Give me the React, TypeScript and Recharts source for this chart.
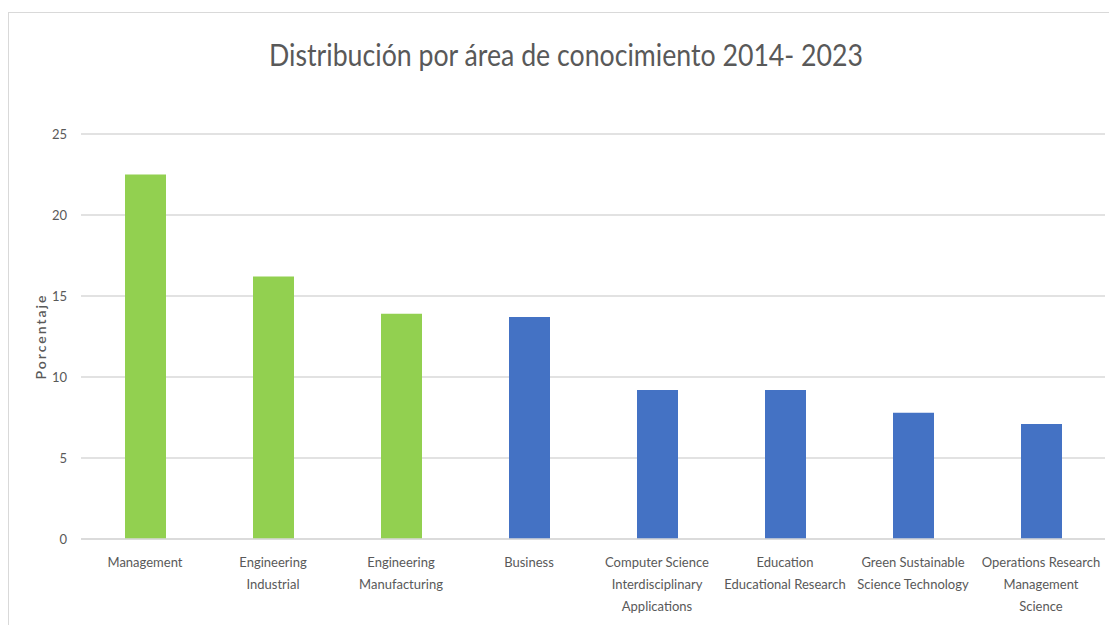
import { BarChart, Bar, XAxis, YAxis, CartesianGrid, Cell } from 'recharts'

const categories = [
  'Management',
  'Engineering\nIndustrial',
  'Engineering\nManufacturing',
  'Business',
  'Computer Science\nInterdisciplinary\nApplications',
  'Education\nEducational Research',
  'Green Sustainable\nScience Technology',
  'Operations Research\nManagement\nScience',
]
const values = [22.5, 16.2, 13.9, 13.7, 9.2, 9.2, 7.8, 7.1]
const barColors = ['#92D050', '#92D050', '#92D050', '#4472C4', '#4472C4', '#4472C4', '#4472C4', '#4472C4']
const yTicks = [0, 5, 10, 15, 20, 25]

const TITLE = 'Distribución por área de conocimiento 2014- 2023'
const FONT = 'Lato, "Open Sans", sans-serif'

const data = categories.map((name, i) => ({ name, value: values[i], color: barColors[i] }))

function CategoryTick({ x, y, payload }: any) {
  const lines = String(payload.value).split('\n')
  return (
    <text x={x} y={y} textAnchor="middle" fill="#595959" fontSize={13} fontFamily={FONT}>
      {lines.map((line, i) => (
        <tspan key={i} x={x} y={y + 28 + i * 22}>{line}</tspan>
      ))}
    </text>
  )
}

function YLabel({ viewBox }: any) {
  const cx = viewBox.x + 19
  const cy = viewBox.y + viewBox.height / 2
  return (
    <text
      x={cx}
      y={cy}
      transform={`rotate(-90 ${cx} ${cy})`}
      textAnchor="middle"
      dominantBaseline="central"
      fill="#595959"
      fontSize={14}
      fontWeight={600}
      letterSpacing={2}
      fontFamily={FONT}
    >
      Porcentaje
    </text>
  )
}

export default function App() {
  return (
    <div style={{ position: 'relative', width: 1109, height: 625, background: '#fff', overflow: 'hidden' }}>
      <style>{'body{margin:0}'}</style>
      <div
        style={{
          position: 'absolute', left: 8, top: 12, width: 1120, height: 640,
          borderLeft: '1.5px solid #d9d9d9', borderTop: '1.5px solid #d9d9d9',
        }}
      />
      <svg width={1109} height={90} style={{ position: 'absolute', left: 0, top: 0 }}>
        <text
          x={566}
          y={66}
          textAnchor="middle"
          fill="#595959"
          fontSize={30}
          fontWeight={400}
          fontFamily={FONT}
          textLength={594}
          lengthAdjust="spacingAndGlyphs"
        >
          {TITLE}
        </text>
      </svg>
      <div style={{ position: 'absolute', left: 0, top: 0 }}>
        <BarChart
          width={1109}
          height={625}
          data={data}
          margin={{ top: 134, right: 4, bottom: 6, left: 21 }}
          barSize={41}
        >
          <CartesianGrid vertical={false} stroke="#d9d9d9" strokeWidth={1.5} />
          <XAxis
            dataKey="name"
            interval={0}
            height={80}
            tickLine={false}
            tickSize={0}
            tickMargin={0}
            axisLine={{ stroke: '#d9d9d9', strokeWidth: 1.5 }}
            tick={<CategoryTick />}
          />
          <YAxis
            domain={[0, 25]}
            ticks={yTicks}
            width={60}
            axisLine={false}
            tickLine={false}
            tickSize={0}
            tickMargin={14}
            tick={{ fill: '#595959', fontSize: 13, fontFamily: FONT }}
            label={<YLabel />}
          />
          <Bar dataKey="value" isAnimationActive={false}>
            {data.map((d, i) => (
              <Cell key={i} fill={d.color} />
            ))}
          </Bar>
        </BarChart>
      </div>
    </div>
  )
}
